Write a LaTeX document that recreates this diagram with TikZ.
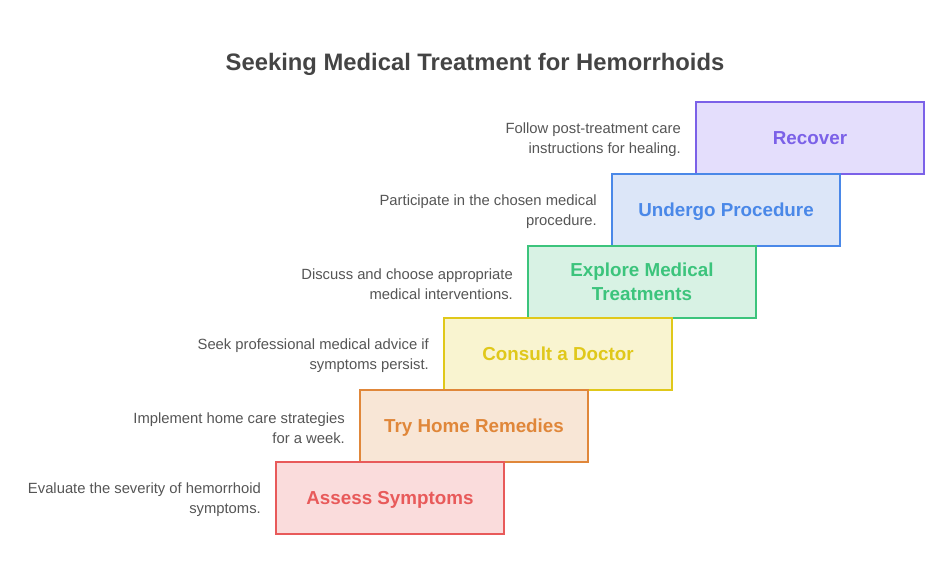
\documentclass[tikz,border=0pt]{standalone}
\usepackage{fontspec}
\setmainfont{Liberation Sans}

% Colours of the steps
\definecolor{assessline}{HTML}{E85A5A}
\definecolor{assessfill}{HTML}{FADCDC}
\definecolor{homeline}{HTML}{E0873A}
\definecolor{homefill}{HTML}{F8E6D6}
\definecolor{doctorline}{HTML}{E0C81A}
\definecolor{doctorfill}{HTML}{F9F4D0}
\definecolor{exploreline}{HTML}{3CC47C}
\definecolor{explorefill}{HTML}{D8F2E4}
\definecolor{procline}{HTML}{4A88E8}
\definecolor{procfill}{HTML}{DCE6F8}
\definecolor{recoverline}{HTML}{7B61E8}
\definecolor{recoverfill}{HTML}{E4DEFC}
\definecolor{titlegray}{HTML}{444444}
\definecolor{descgray}{HTML}{555555}

\tikzset{
  stepbox/.style={draw=#1line, fill=#1fill, text=#1line, line width=2pt,
    minimum width=228pt, minimum height=72pt, align=center,
    font=\fontsize{18.8}{24}\selectfont\bfseries, inner sep=0pt,
    text depth=0pt},
  desc/.style={anchor=east, align=right, text=descgray,
    font=\fontsize{14.8}{20}\selectfont, inner sep=0pt}
}

\begin{document}
\begin{tikzpicture}[x=1pt, y=-1pt]
  % Canvas
  \useasboundingbox (0,0) rectangle (949,584);

  % Title
  \node[font=\fontsize{23.8}{28}\selectfont\bfseries, text=titlegray] (title) at (475,64)
    {Seeking Medical Treatment for Hemorrhoids};

  % Steps, drawn from the top down so that lower boxes lie on top
  \node[stepbox=recover] (recover) at (810,138) {Recover};
  \node[stepbox=proc]    (proc)    at (726,210) {Undergo Procedure};
  \node[stepbox=explore] (explore) at (642,282) {Explore Medical\\Treatments};
  \node[stepbox=doctor]  (doctor)  at (558,354) {Consult a Doctor};
  \node[stepbox=home]    (home)    at (474,426) {Try Home Remedies};
  \node[stepbox=assess]  (assess)  at (390,498) {Assess Symptoms};

  % Descriptions to the left of each step
  \node[desc] (recoverdesc) at ([xshift=-14pt,yshift=-2pt]recover.west)
    {Follow post-treatment care\\instructions for healing.};
  \node[desc] (procdesc) at ([xshift=-14pt,yshift=-2pt]proc.west)
    {Participate in the chosen medical\\procedure.};
  \node[desc] (exploredesc) at ([xshift=-14pt,yshift=-2pt]explore.west)
    {Discuss and choose appropriate\\medical interventions.};
  \node[desc] (doctordesc) at ([xshift=-14pt,yshift=-2pt]doctor.west)
    {Seek professional medical advice if\\symptoms persist.};
  \node[desc] (homedesc) at ([xshift=-14pt,yshift=-2pt]home.west)
    {Implement home care strategies\\for a week.};
  \node[desc] (assessdesc) at ([xshift=-14pt,yshift=-2pt]assess.west)
    {Evaluate the severity of hemorrhoid\\symptoms.};
\end{tikzpicture}
\end{document}
